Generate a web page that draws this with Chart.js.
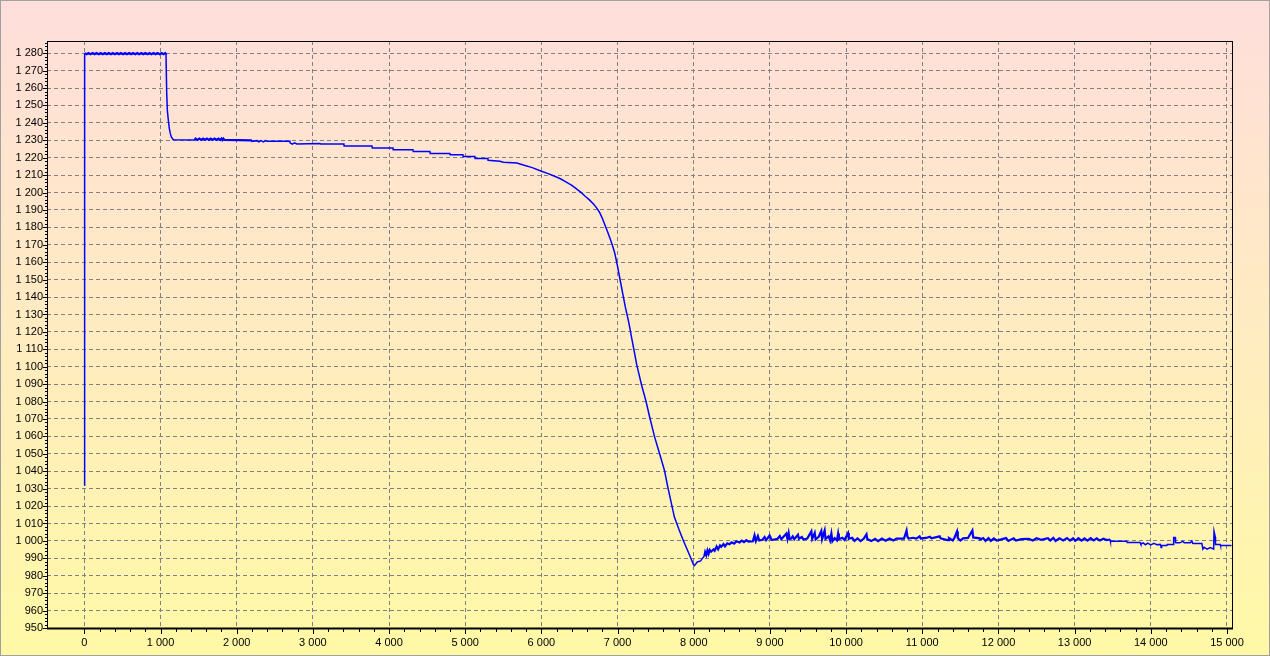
<!DOCTYPE html>
<html>
<head>
<meta charset="utf-8">
<title>Temperature log</title>
<script src="https://cdn.jsdelivr.net/npm/chart.js@4.4.1/dist/chart.umd.min.js"></script>
<style>
  html, body { margin: 0; padding: 0; background: #fff; }
  canvas { display: block; }
</style>
</head>
<body>
<canvas id="logChart" width="1270" height="656"></canvas>
<script>
// values
const timeVals = [
  0, 4, 30, 55, 80, 110, 135, 160, 190, 215, 240, 270, 295, 320, 350, 375, 400, 430, 455, 480,
  510, 535, 560, 590, 615, 640, 670, 695, 720, 750, 775, 800, 830, 855, 880, 910, 935, 960, 990, 1015,
  1040, 1065, 1072, 1081, 1090, 1103, 1116, 1129, 1142, 1168,
  1450, 1460, 1485, 1510, 1535, 1560, 1585, 1610, 1635, 1660, 1685, 1710, 1735, 1760, 1785, 1800, 1812, 1825, 1840, 2200,
  2201, 2265, 2290, 2320, 2350, 2380, 2400, 2699, 2700, 2730, 2760, 2790, 3093, 3100, 3408, 3410, 3776, 3780,
  4052, 4055, 4314, 4318, 4537, 4540, 4799, 4802, 4970, 4973, 5127, 5130, 5298, 5300, 5455, 5500, 5678, 5785,
  5880, 6000, 6080, 6158, 6250, 6333, 6400, 6465, 6520, 6575, 6630, 6684, 6725, 6763, 6800, 6838, 6870, 6904,
  6935, 6961, 6996, 7035, 7070, 7101, 7147, 7185, 7220, 7250, 7285, 7315, 7371, 7422, 7487, 7552, 7616, 7659,
  7703, 7746, 7810, 7862, 7918, 7960, 7996, 8009, 8047, 8090, 8121,
  8140, 8150, 8165, 8180, 8195, 8210, 8228, 8260, 8275, 8300, 8320, 8345, 8360, 8390, 8410, 8440, 8469, 8500,
  8530, 8560, 8601, 8630, 8660, 8690, 8720, 8776, 8798, 8815, 8842, 8860, 8900, 8930, 8950, 8996, 9020, 9040,
  9100, 9130, 9150, 9215, 9230, 9246, 9259, 9280, 9300, 9320, 9368, 9380, 9420, 9440, 9490, 9544, 9555, 9588,
  9600, 9640, 9675, 9685, 9719, 9730, 9770, 9790, 9807, 9820, 9850, 9880, 9895, 9905, 9950, 9980, 10026, 10036,
  10080, 10110, 10150, 10190, 10230, 10268, 10278, 10330, 10380, 10420, 10470, 10520, 10570, 10620, 10660, 10760,
  10794, 10805, 10820, 10880, 10920, 10965, 10980, 11050, 11100, 11120, 11228, 11240, 11338, 11350, 11400, 11420,
  11456, 11466, 11500, 11535, 11600, 11658, 11668, 11754, 11760, 11800, 11830, 11870, 11900, 11940, 11980, 12050,
  12100, 12130, 12200, 12230, 12300, 12400, 12450, 12500, 12560, 12650, 12680, 12720, 12750, 12800, 12850, 12900,
  12940, 12980, 13010, 13050, 13090, 13130, 13170, 13210, 13250, 13290, 13330, 13380, 13420, 13465, 13470, 13684,
  13690, 13860, 13870, 13900, 13930, 13960, 14000, 14040, 14080, 14123, 14130, 14136, 14142, 14211, 14215, 14298,
  14300, 14320, 14325, 14342, 14380, 14420, 14440, 14518, 14539, 14550, 14561, 14671, 14684, 14700, 14740, 14780,
  14825, 14830, 14846, 14850, 14912, 14915, 15060
];
const tempVals = [
  1032, 1280, 1279.4, 1280.1, 1279.4, 1280.1, 1279.4, 1280.1, 1279.4, 1280.1, 1279.4, 1280.1, 1279.4, 1280.1, 1279.4, 1280.1, 1279.4, 1280.1, 1279.4, 1280.1,
  1279.4, 1280.1, 1279.4, 1280.1, 1279.4, 1280.1, 1279.4, 1280.1, 1279.4, 1280.1, 1279.4, 1280.1, 1279.4, 1280.1, 1279.4, 1280.1, 1279.4, 1280.1, 1279.4, 1280.1,
  1279.4, 1280.1, 1280, 1257.5, 1247, 1241.5, 1236.7, 1233.8, 1231.9, 1230.3,
  1230.2, 1231, 1230.2, 1231, 1230.2, 1231, 1230.2, 1231, 1230.2, 1231, 1230.2, 1231, 1230.2, 1231, 1230.2, 1231, 1230.2, 1231, 1230.2, 1230,
  1229.4, 1229.8, 1229.1, 1229.8, 1229.1, 1229.8, 1229.4, 1229.4, 1228.5, 1227.8, 1228.5, 1227.9, 1228.1, 1227.8, 1227.8, 1226.7, 1226.7, 1225.6,
  1225.6, 1224.6, 1224.6, 1223.5, 1223.5, 1222.4, 1222.4, 1221.7, 1221.7, 1220.7, 1220.7, 1219.6, 1219.6, 1218.5, 1218, 1217.4, 1217, 1215.5,
  1214.3, 1212.2, 1211, 1209.6, 1207.9, 1205.8, 1204.1, 1202, 1200.1, 1197.9, 1195.8, 1193.4, 1191.2, 1188.7, 1185.2, 1180.9, 1177.3, 1173.3,
  1169.3, 1165.6, 1158.5, 1149.5, 1141.5, 1134.5, 1125.5, 1116.5, 1108.5, 1101.5, 1095, 1089.5, 1080.6, 1071, 1059.6, 1050, 1040.4, 1031,
  1022.3, 1013.7, 1006.1, 1000.4, 994.6, 990.3, 986.4, 985.8, 987.9, 988.5, 990.4,
  991.3, 993.5, 991.8, 994.5, 992.6, 994.8, 993.8, 995.2, 994.4, 996.8, 995.2, 997.4, 996.6, 998.2, 996.9, 998.6, 998.1, 999.2,
  998.4, 999.8, 999.1, 1000.2, 999.3, 1000.4, 999.6, 999.8, 1003.2, 999.9, 1002.8, 1000.2, 1000.6, 1002.2, 1000.4, 1003.1, 1000.8, 1000.6,
  1001.2, 1002.8, 1000.9, 1004.2, 1001.1, 1004.5, 1001.1, 1001.3, 1002.6, 1001, 1003.6, 1001.2, 1002.2, 1000.8, 1001.4, 1005.5, 1001.2, 1004.6,
  1000.9, 1002.4, 1005.7, 1001, 1006, 1001.2, 1002.6, 1000.2, 1004.2, 999.8, 1001.6, 1000.4, 1004.2, 1001, 1001.8, 1000.6, 1004.5, 1001.2,
  1001.8, 1000, 1001.4, 999.9, 1001.2, 1003.8, 1001.1, 999.9, 1001.2, 999.9, 1001.3, 1000.1, 1001.4, 1000.2, 1001.3, 1001.3,
  1006, 1002.5, 1001.4, 1001.8, 1001.3, 1002.6, 1001.4, 1001.7, 1002.4, 1001.5, 1002.6, 1001.5, 1000.4, 1001.7, 1000.3, 1001.6,
  1005.5, 1001.6, 1000.2, 1001.5, 1001.7, 1006, 1002, 1001.5, 1000.8, 1001.6, 1000, 1001.6, 1000, 1001.4, 1000.2, 1001,
  1001.6, 1000, 1001.5, 1000.2, 1001, 1001.2, 1000.2, 1001.5, 1000.6, 1001.6, 1000.2, 1001.7, 1000, 1001.5, 1000.3, 1001.6,
  1000.2, 1001.5, 1000.1, 1001.6, 1000.2, 1001.5, 1000.2, 1001.6, 1000.3, 1001.5, 1000.2, 1001.3, 1000.5, 1000.8, 999.8, 999.8,
  999.1, 999.1, 998.1, 998.9, 997.8, 998.7, 997.7, 998.6, 997.8, 998, 997.4, 996.2, 997.4, 997.4, 997.9, 997.9,
  1001.9, 1001.9, 999, 998.9, 998.9, 999.7, 998.9, 998.9, 1000, 998.6, 998.5, 998.5, 995.3, 996.3, 995.3, 996.2,
  995.3, 1005.5, 1002.3, 997.9, 997.9, 997.4, 997.4
];
const xTickValues = [0, 1000, 2000, 3000, 4000, 5000, 6000, 7000, 8000, 9000, 10000, 11000, 12000, 13000, 14000, 15000];
const yTickValues = [950, 960, 970, 980, 990, 1000, 1010, 1020, 1030, 1040, 1050, 1060, 1070, 1080, 1090, 1100, 1110,
  1120, 1130, 1140, 1150, 1160, 1170, 1180, 1190, 1200, 1210, 1220, 1230, 1240, 1250, 1260, 1270, 1280];

const fmt = v => String(v).replace(/\B(?=(\d{3})+(?!\d))/g, ' ');

// stretches where the logger jitters, drawn a bit heavier
const noisy = x => (x >= 4 && x < 1072) || (x >= 1450 && x < 1850) || (x >= 8140 && x < 13465);

const backdrop = {
  id: 'backdrop',
  beforeDraw(chart) {
    const { ctx, width, height } = chart;
    const g = ctx.createLinearGradient(0, 0, 0, height);
    g.addColorStop(0, '#ffdedb');
    g.addColorStop(1, '#fff9a6');
    ctx.save();
    ctx.fillStyle = g;
    ctx.fillRect(0, 0, width, height);
    ctx.restore();
  },
  afterDraw(chart) {
    const { ctx, chartArea: a, width, height } = chart;
    const xs = chart.scales.x, ys = chart.scales.y;
    ctx.save();
    // outer grey frame
    ctx.strokeStyle = '#a0a0a0';
    ctx.lineWidth = 1;
    ctx.strokeRect(0.5, 0.5, width - 1, height - 1);
    // plot frame
    ctx.strokeStyle = '#000';
    ctx.strokeRect(a.left + 0.5, a.top + 0.5, a.right - a.left, a.bottom - a.top);
    ctx.lineWidth = 2;
    ctx.beginPath();
    ctx.moveTo(a.left, a.bottom + 0.5);
    ctx.lineTo(a.right + 1, a.bottom + 0.5);
    ctx.stroke();
    // tick marks
    ctx.lineWidth = 1;
    ctx.beginPath();
    for (let v = 0; v <= 15000; v += 200) {
      const px = Math.round(xs.getPixelForValue(v)) + 0.5;
      ctx.moveTo(px, a.bottom + 1);
      ctx.lineTo(px, a.bottom + (v % 1000 === 0 ? 6 : 4));
    }
    for (let v = 950; v <= 1286; v += 2) {
      const py = Math.round(ys.getPixelForValue(v)) + 0.5;
      ctx.moveTo(a.left, py);
      ctx.lineTo(a.left - (v % 10 === 0 ? 4 : 2), py);
    }
    ctx.stroke();
    ctx.restore();
  }
};

new Chart(document.getElementById('logChart'), {
  type: 'line',
  data: {
    datasets: [{
      data: timeVals.map((t, i) => ({ x: t, y: tempVals[i] })),
      borderColor: '#0000ff',
      borderWidth: 1.5,
      segment: { borderWidth: ctx => noisy(ctx.p0.parsed.x) ? 2.2 : 1.5 },
      pointRadius: 0,
      tension: 0,
      fill: false
    }]
  },
  options: {
    responsive: false,
    animation: false,
    events: [],
    layout: { padding: { top: 41, right: 38, left: 0, bottom: 0 } },
    plugins: { legend: { display: false }, tooltip: { enabled: false } },
    scales: {
      x: {
        type: 'linear',
        min: -490,
        max: 15066,
        afterBuildTicks: s => { s.ticks = xTickValues.map(v => ({ value: v })); },
        afterFit: s => { s.height = 28; },
        border: { display: false, dash: [4, 3] },
        grid: { color: '#808080', lineWidth: 1, drawTicks: false },
        ticks: {
          autoSkip: false, maxRotation: 0, padding: 8, color: '#000',
          font: { family: 'Liberation Sans, Arial, sans-serif', size: 11 },
          callback: v => fmt(v)
        }
      },
      y: {
        min: 950,
        max: 1287,
        afterBuildTicks: s => { s.ticks = yTickValues.map(v => ({ value: v })); },
        afterFit: s => { s.width = 47; },
        border: { display: false, dash: [4, 3] },
        grid: { color: '#808080', lineWidth: 1, drawTicks: false },
        ticks: {
          autoSkip: false, padding: 4, color: '#000',
          font: { family: 'Liberation Sans, Arial, sans-serif', size: 11 },
          callback: v => fmt(v)
        }
      }
    }
  },
  plugins: [backdrop]
});
</script>
</body>
</html>
